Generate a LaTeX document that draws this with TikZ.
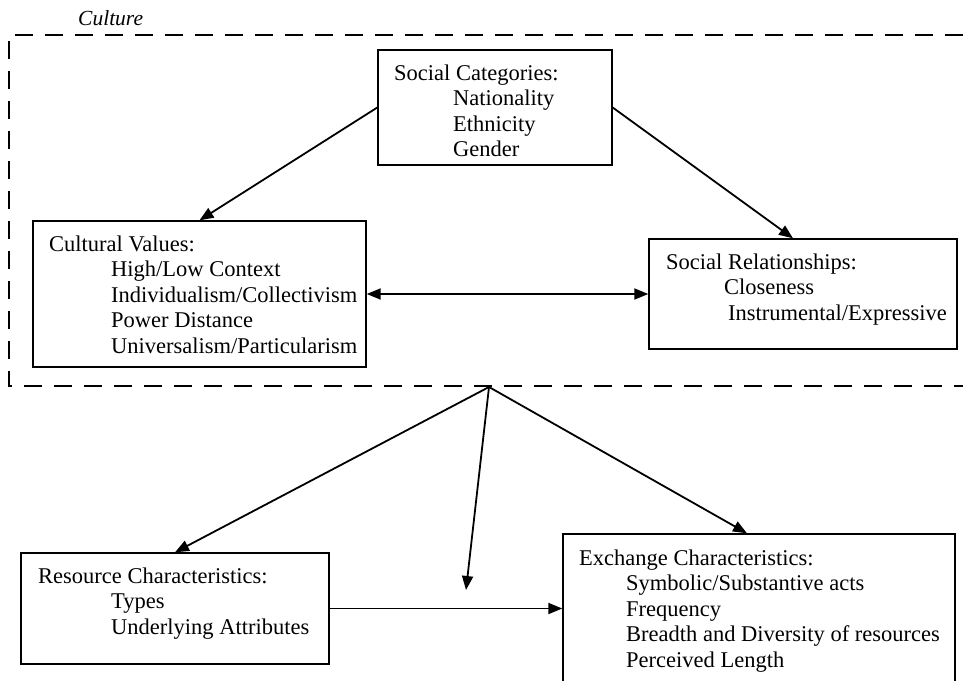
\documentclass[tikz,border=0pt]{standalone}
\usepackage{fontspec}
\setmainfont{Liberation Serif}
\usetikzlibrary{arrows.meta}
\tikzset{
  box/.style={draw, line width=1.4pt, inner sep=0pt, fill=none},
  txt/.style={inner sep=0pt, anchor=base west, font=\fontsize{22.5}{25.5}\selectfont},
  arr/.style={line width=1.8pt, -{Triangle[length=14pt,width=11pt]}},
  darr/.style={line width=1.8pt, {Triangle[length=14pt,width=11pt]}-{Triangle[length=14pt,width=11pt]}},
  dashbox/.style={line width=2.5pt, dash pattern=on 18pt off 12pt}
}
\newcommand{\ind}[1]{\hspace*{#1pt}}
\begin{document}
\begin{tikzpicture}[x=1pt,y=-1pt]
\useasboundingbox (0,0) rectangle (963,680);
\clip (0,0) rectangle (963,680);
% culture frame
\node[inner sep=0pt, anchor=base west, font=\fontsize{21.5}{25}\selectfont\itshape] (cult) at (78,25) {Culture};
\draw[dashbox] (963,35) -- (9,35) -- (9,386) -- (963,386);
% boxes
\node[box, minimum width=234pt, minimum height=115pt] (sc) at (495,107.5) {};
\node[box, minimum width=333pt, minimum height=146pt] (cv) at (199.5,294) {};
\node[box, minimum width=308pt, minimum height=110pt] (sr) at (803,294) {};
\node[box, minimum width=308pt, minimum height=111pt] (rc) at (175,608.5) {};
\node[box, minimum width=392pt, minimum height=170pt] (ex) at (759,619) {};
% texts
\node[txt] (sct) at (394,80) {\begin{tabular}[t]{@{}l@{}}Social Categories:\\\ind{59}Nationality\\\ind{59}Ethnicity\\\ind{59}Gender\end{tabular}};
\node[txt] (cvt) at (49,251) {\begin{tabular}[t]{@{}l@{}}Cultural Values:\\\ind{62}High/Low Context\\\ind{62}Individualism/Collectivism\\\ind{62}Power Distance\\\ind{62}Universalism/Particularism\end{tabular}};
\node[txt] (srt) at (666,269) {\begin{tabular}[t]{@{}l@{}}Social Relationships:\\\ind{58}Closeness\\\ind{62}Instrumental/Expressive\end{tabular}};
\node[txt] (rct) at (38,583) {\begin{tabular}[t]{@{}l@{}}Resource Characteristics:\\\ind{73}Types\\\ind{73}Underlying Attributes\end{tabular}};
\node[txt] (ext) at (579,565) {\begin{tabular}[t]{@{}l@{}}Exchange Characteristics:\\\ind{47}Symbolic/Substantive acts\\\ind{47}Frequency\\\ind{47}Breadth and Diversity of resources\\\ind{47}Perceived Length\end{tabular}};
% connectors
\draw[arr] (sc.west) -- (cv.north);
\draw[arr] (sc.east) -- ([xshift=-10pt]sr.north);
\draw[darr] (cv.east) -- (sr.west);
\coordinate (hub) at (489,387);
\coordinate (mod) at (466,590);
\draw[arr] (hub) -- (rc.north);
\draw[arr] (hub) -- (mod);
\draw[arr] (hub) -- ([xshift=-12pt]ex.north);
\draw[arr] (rc.east) -- (rc.east -| ex.west);
\end{tikzpicture}
\end{document}
